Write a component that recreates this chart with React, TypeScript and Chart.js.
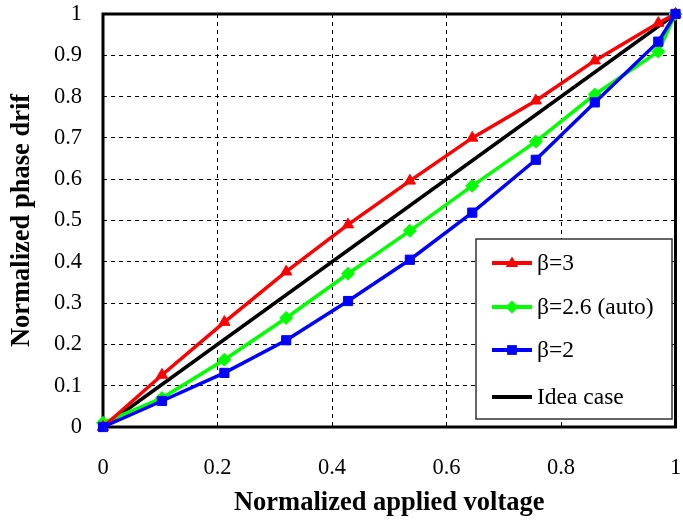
import { useEffect, useRef } from 'react';
import { Chart, registerables } from 'chart.js';

Chart.register(...registerables);

// Normalized applied voltage (x) for measured points
const xValues = [0, 0.103, 0.212, 0.32, 0.428, 0.536, 0.645, 0.756, 0.859, 0.97, 1];
// Normalized phase drift
const beta3 = [0, 0.126, 0.254, 0.376, 0.49, 0.596, 0.7, 0.79, 0.887, 0.978, 1];
const beta26 = [0.01, 0.07, 0.163, 0.264, 0.371, 0.475, 0.584, 0.691, 0.805, 0.909, 1];
const beta2 = [0, 0.063, 0.131, 0.21, 0.305, 0.405, 0.519, 0.647, 0.786, 0.933, 1];
const idealX = [0, 1];
const idealY = [0, 1];

const seriesLabels = ['β=3', 'β=2.6 (auto)', 'β=2', 'Idea case'];
const xTitle = 'Normalized applied voltage';
const yTitle = 'Normalized phase drif';

const toPoints = (xs: number[], ys: number[]) => xs.map((x, i) => ({ x, y: ys[i] }));

function drawMarker(ctx: CanvasRenderingContext2D, style: string, x: number, y: number, r: number) {
  ctx.beginPath();
  if (style === 'triangle') {
    ctx.moveTo(x, y - r);
    ctx.lineTo(x + r * 0.95, y + r * 0.6);
    ctx.lineTo(x - r * 0.95, y + r * 0.6);
    ctx.closePath();
  } else if (style === 'rectRot') {
    ctx.moveTo(x, y - r);
    ctx.lineTo(x + r, y);
    ctx.lineTo(x, y + r);
    ctx.lineTo(x - r, y);
    ctx.closePath();
  } else if (style === 'rect') {
    ctx.rect(x - r * 0.75, y - r * 0.75, r * 1.5, r * 1.5);
  } else {
    return;
  }
  ctx.fill();
}

const framePlugin = {
  id: 'frame',
  beforeDatasetsDraw(chart: any) {
    const { ctx, chartArea: a } = chart;
    ctx.save();
    ctx.strokeStyle = '#000';
    ctx.lineWidth = 3;
    ctx.strokeRect(a.left, a.top, a.right - a.left, a.bottom - a.top);
    ctx.restore();
  },
};

const legendPlugin = {
  id: 'boxLegend',
  afterDraw(chart: any) {
    const ctx: CanvasRenderingContext2D = chart.ctx;
    const x0 = 476, y0 = 239, w = 196, h = 180;
    ctx.save();
    ctx.fillStyle = '#fff';
    ctx.fillRect(x0, y0, w, h);
    ctx.strokeStyle = '#333';
    ctx.lineWidth = 1.5;
    ctx.strokeRect(x0, y0, w, h);
    const rows = [263, 307, 350, 397];
    const order = [1, 2, 3, 0];
    ctx.font = '23.5px "Liberation Serif", "Times New Roman", serif';
    ctx.textBaseline = 'middle';
    ctx.textAlign = 'left';
    order.forEach((di, i) => {
      const ds = chart.data.datasets[di];
      const y = rows[i];
      ctx.strokeStyle = ds.borderColor;
      ctx.lineWidth = 4;
      ctx.beginPath();
      ctx.moveTo(492, y);
      ctx.lineTo(532, y);
      ctx.stroke();
      ctx.fillStyle = ds.borderColor;
      if (ds.pointRadius > 0) drawMarker(ctx, ds.pointStyle, 512, y, 6.5);
      ctx.fillStyle = '#000';
      ctx.fillText(ds.label, 537, y + 1);
    });
    ctx.restore();
  },
};

export default function App() {
  const ref = useRef<HTMLCanvasElement>(null);
  useEffect(() => {
    if (!ref.current) return;
    const serif = '"Liberation Serif", "Times New Roman", serif';
    const chart = new Chart(ref.current, {
      type: 'line',
      data: {
        datasets: [
          {
            label: seriesLabels[3],
            data: toPoints(idealX, idealY),
            borderColor: '#000000',
            backgroundColor: '#000000',
            borderWidth: 3.5,
            pointRadius: 0,
            order: 3,
          },
          {
            label: seriesLabels[0],
            data: toPoints(xValues, beta3),
            borderColor: '#ff0000',
            backgroundColor: '#ff0000',
            borderWidth: 3.5,
            pointStyle: 'triangle',
            pointRadius: 6.5,
            pointBorderWidth: 1,
            order: 1,
          },
          {
            label: seriesLabels[1],
            data: toPoints(xValues, beta26),
            borderColor: '#00ff00',
            backgroundColor: '#00ff00',
            borderWidth: 3.5,
            pointStyle: 'rectRot',
            pointRadius: 6.5,
            pointBorderWidth: 1,
            order: 2,
          },
          {
            label: seriesLabels[2],
            data: toPoints(xValues, beta2),
            borderColor: '#0000ff',
            backgroundColor: '#0000ff',
            borderWidth: 3.5,
            pointStyle: 'rect',
            pointRadius: 6.5,
            pointBorderWidth: 1,
            order: 0,
          },
        ] as any,
      },
      options: {
        animation: false,
        responsive: false,
        clip: false as any,
        layout: { padding: { top: 14, right: 5, left: 0, bottom: 0 } },
        plugins: { legend: { display: false }, tooltip: { enabled: false } },
        elements: { line: { tension: 0 } },
        scales: {
          x: {
            type: 'linear',
            min: 0,
            max: 1,
            afterFit: (s: any) => {
              s.height = 94;
              s.paddingLeft = 0;
              s.paddingRight = 0;
            },
            ticks: {
              stepSize: 0.2,
              padding: 28,
              color: '#000',
              font: { family: serif, size: 22.5 },
              maxRotation: 0,
              callback: (v: any) => String(+Number(v).toFixed(1)),
            },
            grid: { color: '#000', lineWidth: 1, drawTicks: false },
            border: { display: false, dash: [4, 4] },
            title: {
              display: true,
              text: xTitle,
              color: '#000',
              font: { family: serif, size: 26.5, weight: 'bold' },
              padding: { top: 0, bottom: 2 },
            },
          },
          y: {
            type: 'linear',
            min: 0,
            max: 1,
            afterFit: (s: any) => {
              s.width = 103;
              s.paddingTop = 0;
              s.paddingBottom = 0;
            },
            ticks: {
              stepSize: 0.1,
              padding: 21,
              color: '#000',
              font: { family: serif, size: 22.5 },
              callback: (v: any) => String(+Number(v).toFixed(1)),
            },
            grid: { color: '#000', lineWidth: 1, drawTicks: false },
            border: { display: false, dash: [4, 4] },
            title: {
              display: true,
              text: yTitle,
              color: '#000',
              font: { family: serif, size: 26.5, weight: 'bold' },
              padding: { top: 6, bottom: 0 },
            },
          },
        },
      } as any,
      plugins: [framePlugin, legendPlugin],
    });
    return () => chart.destroy();
  }, []);
  return (
    <div style={{ position: 'absolute', left: 0, top: 0, width: 683, height: 521, background: '#fff' }}>
      <canvas ref={ref} width={683} height={521} />
    </div>
  );
}
